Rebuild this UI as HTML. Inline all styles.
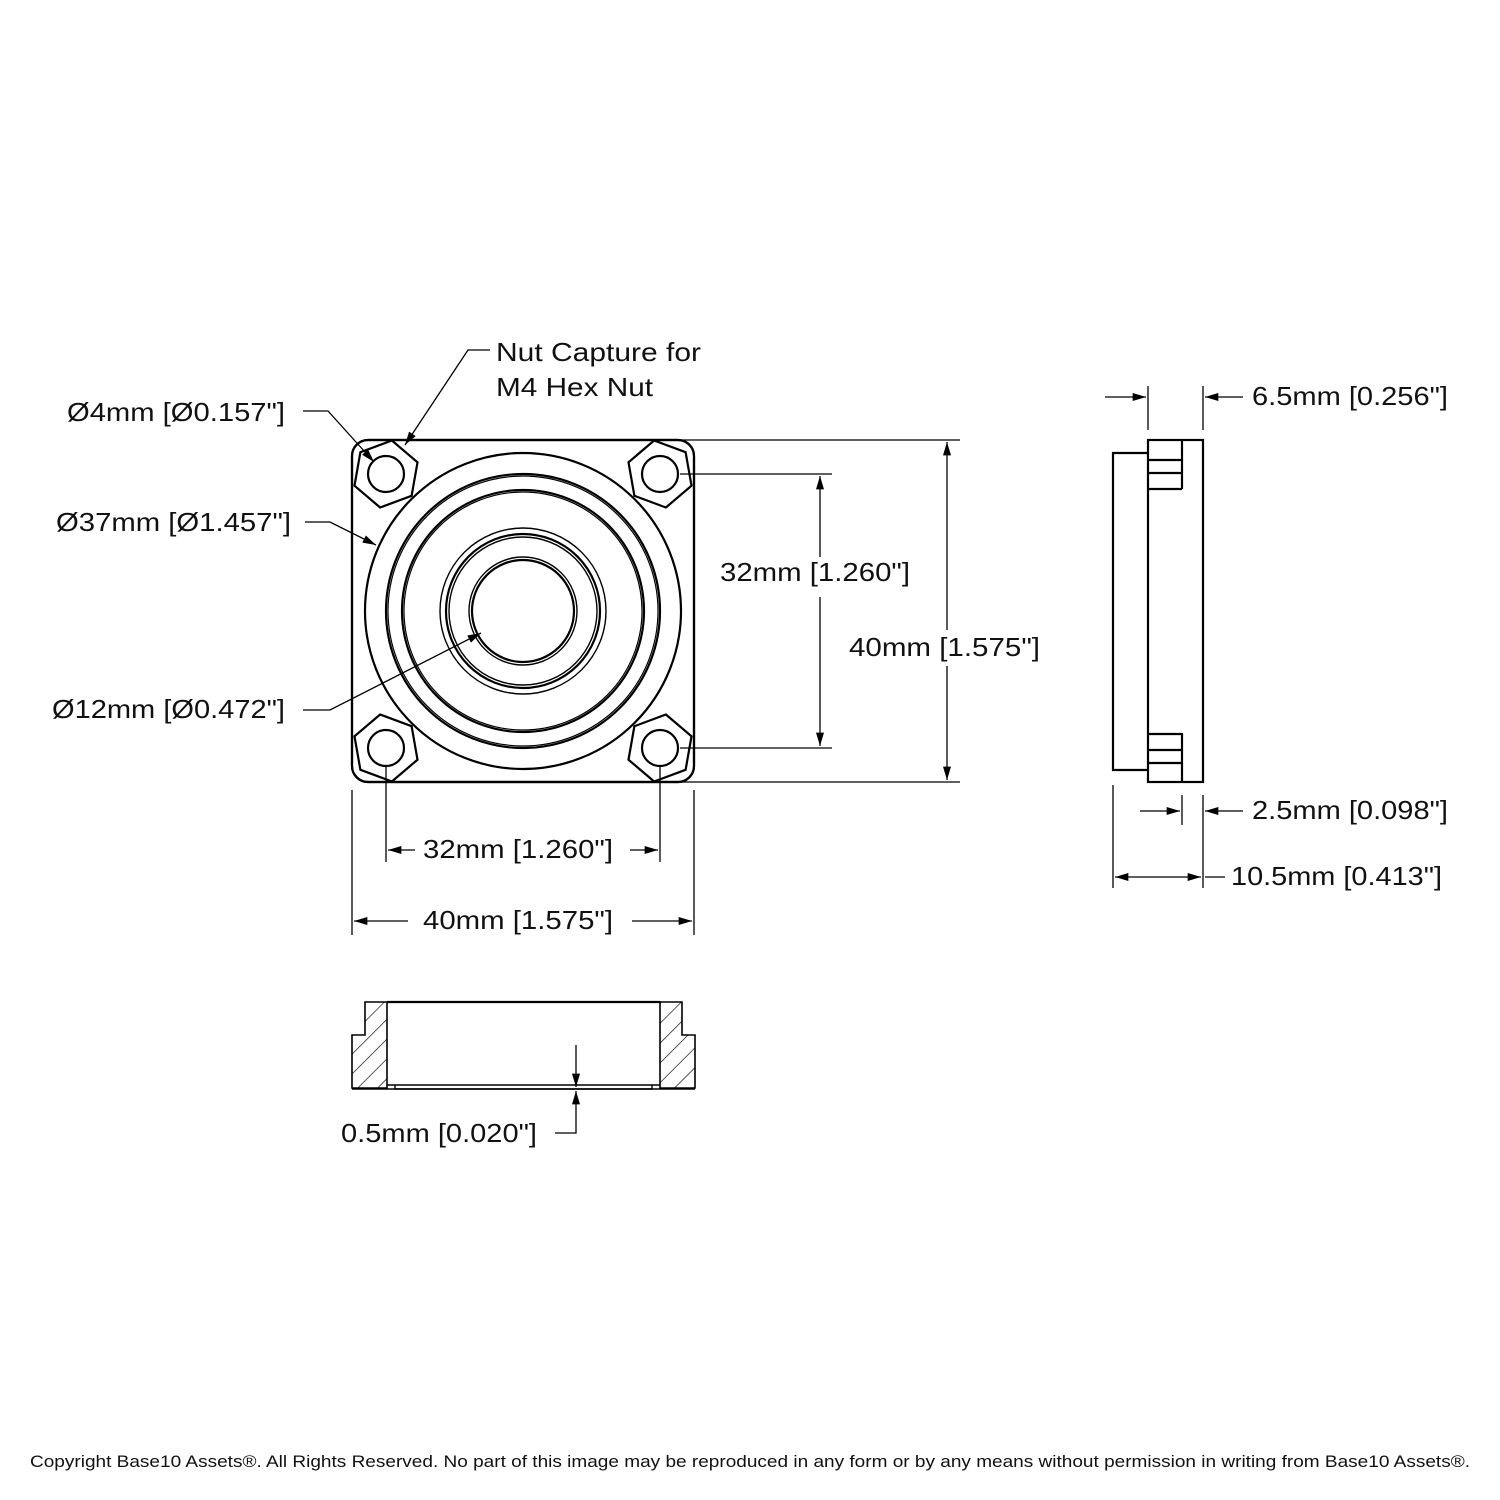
<!DOCTYPE html>
<html><head><style>
html,body{margin:0;padding:0;background:#fff}
svg{display:block}
text{font-family:"Liberation Sans",sans-serif;font-size:26px;fill:#111}
</style></head><body>
<svg width="1500" height="1500" viewBox="0 0 1500 1500" xmlns="http://www.w3.org/2000/svg">
<defs>
<marker id="a" viewBox="0 0 10 6" refX="10" refY="3" markerWidth="20" markerHeight="8" markerUnits="userSpaceOnUse" orient="auto"><path d="M0,0 L10,3 L0,6z" fill="#000"/></marker>
<clipPath id="sq"><rect x="352" y="440" width="342" height="342" rx="16"/></clipPath>
<pattern id="h" width="14" height="14" patternUnits="userSpaceOnUse" patternTransform="rotate(45)"><line x1="0" y1="0" x2="0" y2="14" stroke="#000" stroke-width="1.3"/></pattern>
</defs>
<g fill="none" stroke="#000" stroke-width="2.2">
<rect x="352" y="440" width="342" height="342" rx="16"/>
<g clip-path="url(#sq)" fill="#fff">
<polygon points="386,440 415,457 415,491 386,508 357,491 357,457" transform="rotate(10 386 474)"/>
<polygon points="660,440 689,457 689,491 660,508 631,491 631,457" transform="rotate(-10 660 474)"/>
<polygon points="386,714 415,731 415,765 386,782 357,765 357,731" transform="rotate(-10 386 748)"/>
<polygon points="660,714 689,731 689,765 660,782 631,765 631,731" transform="rotate(10 660 748)"/>
</g>
<rect x="352" y="440" width="342" height="342" rx="16"/>
<circle cx="386" cy="474" r="18"/><circle cx="660" cy="474" r="18"/>
<circle cx="386" cy="748" r="18"/><circle cx="660" cy="748" r="18"/>
<circle cx="523" cy="611" r="158"/>
<circle cx="523" cy="611" r="137"/><circle cx="523" cy="611" r="135" stroke-width="1.2"/>
<circle cx="523" cy="611" r="121"/><circle cx="523" cy="611" r="119" stroke-width="1.2"/>
<circle cx="523" cy="611" r="83" stroke-width="1.4"/>
<circle cx="523" cy="611" r="77"/><circle cx="523" cy="611" r="74" stroke-width="1.4"/>
<circle cx="523" cy="611" r="54" stroke-width="1.4"/><circle cx="523" cy="611" r="51"/>
<rect x="1148" y="440" width="55" height="342"/>
<polyline points="1148,453 1113,453 1113,770 1148,770"/>
<line x1="1182" y1="440" x2="1182" y2="489"/><line x1="1182" y1="733" x2="1182" y2="782"/>
<line x1="1148" y1="460" x2="1182" y2="460"/><line x1="1148" y1="473" x2="1182" y2="473"/><line x1="1148" y1="489" x2="1182" y2="489"/>
<line x1="1148" y1="734" x2="1182" y2="734"/><line x1="1148" y1="750" x2="1182" y2="750"/><line x1="1148" y1="763" x2="1182" y2="763"/>
<path d="M365,1002 H387 V1088 H352 V1035 H365Z" fill="url(#h)" stroke-width="1.6"/>
<path d="M682,1002 H660 V1088 H695 V1035 H682Z" fill="url(#h)" stroke-width="1.6"/>
<line x1="387" y1="1002" x2="660" y2="1002"/>
<path d="M387,1085 H660" stroke-width="1.4"/>
<path d="M395,1085 V1089 H652 V1085" stroke-width="1.4"/>
<line x1="352" y1="1089" x2="695" y2="1089" stroke-width="1.6"/>
</g>
<g fill="none" stroke="#000" stroke-width="1.3">
<polyline points="303,411 328,411 374,462" marker-end="url(#a)"/>
<polyline points="305,522 330,522 376,545" marker-end="url(#a)"/>
<polyline points="303,710 330,710 481,633" marker-end="url(#a)"/>
<polyline points="490,350 468,350 405,445" marker-end="url(#a)"/>
<line x1="680" y1="474" x2="832" y2="474"/><line x1="680" y1="748" x2="832" y2="748"/>
<line x1="820" y1="557" x2="820" y2="476" marker-end="url(#a)"/>
<line x1="820" y1="597" x2="820" y2="746" marker-end="url(#a)"/>
<line x1="680" y1="440" x2="960" y2="440"/><line x1="680" y1="782" x2="960" y2="782"/>
<line x1="947" y1="630" x2="947" y2="442" marker-end="url(#a)"/>
<line x1="947" y1="666" x2="947" y2="780" marker-end="url(#a)"/>
<line x1="386" y1="765" x2="386" y2="862"/><line x1="660" y1="765" x2="660" y2="862"/>
<line x1="415" y1="850" x2="388" y2="850" marker-end="url(#a)"/>
<line x1="630" y1="850" x2="658" y2="850" marker-end="url(#a)"/>
<line x1="352" y1="790" x2="352" y2="935"/><line x1="694" y1="790" x2="694" y2="935"/>
<line x1="408" y1="921" x2="354" y2="921" marker-end="url(#a)"/>
<line x1="632" y1="921" x2="692" y2="921" marker-end="url(#a)"/>
<line x1="1148" y1="386" x2="1148" y2="430"/><line x1="1203" y1="386" x2="1203" y2="430"/>
<line x1="1105" y1="397" x2="1146" y2="397" marker-end="url(#a)"/>
<line x1="1243" y1="397" x2="1205" y2="397" marker-end="url(#a)"/>
<line x1="1182" y1="795" x2="1182" y2="825"/><line x1="1203" y1="795" x2="1203" y2="825"/><line x1="1113" y1="785" x2="1113" y2="888"/>
<line x1="1140" y1="811" x2="1180" y2="811" marker-end="url(#a)"/>
<line x1="1243" y1="811" x2="1205" y2="811" marker-end="url(#a)"/>
<line x1="1203" y1="825" x2="1203" y2="888"/>
<line x1="1160" y1="877" x2="1115" y2="877" marker-end="url(#a)"/>
<line x1="1160" y1="877" x2="1201" y2="877" marker-end="url(#a)"/>
<line x1="1205" y1="877" x2="1225" y2="877"/>
<line x1="576" y1="1045" x2="576" y2="1087" marker-end="url(#a)"/>
<polyline points="555,1133 576,1133 576,1091" marker-end="url(#a)"/>
</g>
<g>
<text x="496" y="361" textLength="205" lengthAdjust="spacingAndGlyphs">Nut Capture for</text>
<text x="496" y="396" textLength="157" lengthAdjust="spacingAndGlyphs">M4 Hex Nut</text>
<text x="67" y="421" textLength="218" lengthAdjust="spacingAndGlyphs">Ø4mm [Ø0.157"]</text>
<text x="56" y="531" textLength="235" lengthAdjust="spacingAndGlyphs">Ø37mm [Ø1.457"]</text>
<text x="52" y="718" textLength="233" lengthAdjust="spacingAndGlyphs">Ø12mm [Ø0.472"]</text>
<text x="720" y="581" textLength="190" lengthAdjust="spacingAndGlyphs">32mm [1.260"]</text>
<text x="849" y="656" textLength="191" lengthAdjust="spacingAndGlyphs">40mm [1.575"]</text>
<text x="423" y="858" textLength="190" lengthAdjust="spacingAndGlyphs">32mm [1.260"]</text>
<text x="423" y="929" textLength="190" lengthAdjust="spacingAndGlyphs">40mm [1.575"]</text>
<text x="1252" y="405" textLength="196" lengthAdjust="spacingAndGlyphs">6.5mm [0.256"]</text>
<text x="1252" y="819" textLength="196" lengthAdjust="spacingAndGlyphs">2.5mm [0.098"]</text>
<text x="1231" y="885" textLength="211" lengthAdjust="spacingAndGlyphs">10.5mm [0.413"]</text>
<text x="341" y="1142" textLength="196" lengthAdjust="spacingAndGlyphs">0.5mm [0.020"]</text>
<text x="30" y="1467" style="font-size:17px" textLength="1440" lengthAdjust="spacingAndGlyphs">Copyright Base10 Assets®.  All Rights Reserved. No part of this image may be reproduced in any form or by any means without permission in writing from Base10 Assets®.</text>
</g>
</svg>
</body></html>
